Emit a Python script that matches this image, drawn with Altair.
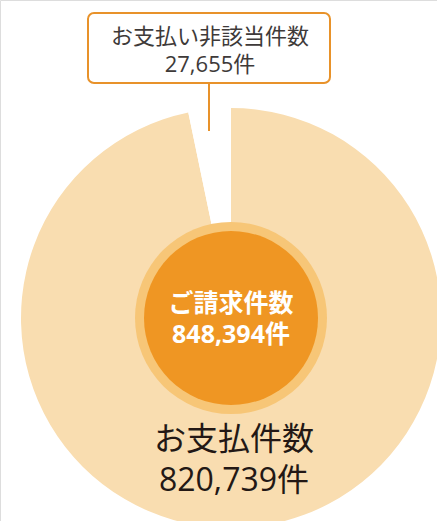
import altair as alt
import pandas as pd

# Data
categories = ["お支払件数", "お支払い非該当件数"]
values = [820739, 27655]
slice_colors = ["#F9DDB0", "#FFFFFF"]
total_label = "ご請求件数"
total_value = 848394

FONT = "Open Sans, Noto Sans CJK JP"
CX, CY = 231, 318

pie_df = pd.DataFrame({"cat": categories, "value": values, "idx": [0, 1]})
total_df = pd.DataFrame({"cat": [total_label], "value": [total_value]})

pie = alt.Chart(pie_df).mark_arc(outerRadius=210).encode(
    theta=alt.Theta("value:Q", stack=True),
    order=alt.Order("idx:Q"),
    color=alt.Color("cat:N", scale=alt.Scale(domain=categories, range=slice_colors), legend=None),
    x=alt.value(CX), y=alt.value(CY),
)

ring = alt.Chart(total_df).mark_arc(outerRadius=96, color="#F7C677").encode(
    theta=alt.Theta("value:Q"), x=alt.value(CX), y=alt.value(CY)
)
inner = alt.Chart(total_df).mark_arc(outerRadius=87, color="#EF9623").encode(
    theta=alt.Theta("value:Q"), x=alt.value(CX), y=alt.value(CY)
)

center_text = alt.Chart(total_df).transform_calculate(
    l1="datum.cat", l2="format(datum.value, ',') + '件'"
)
c1 = center_text.mark_text(font=FONT, fontSize=25, fontWeight="bold", color="white").encode(
    text="l1:N", x=alt.value(CX), y=alt.value(304))
c2 = center_text.mark_text(font=FONT, fontSize=25, fontWeight="bold", color="white").encode(
    text="l2:N", x=alt.value(CX), y=alt.value(335))

paid_df = pie_df[pie_df.idx == 0]
paid = alt.Chart(paid_df).transform_calculate(l2="format(datum.value, ',') + '件'")
p1 = paid.mark_text(font=FONT, fontSize=32, color="#231815").encode(
    text="cat:N", x=alt.value(234), y=alt.value(440))
p2 = paid.mark_text(font=FONT, fontSize=32, color="#231815").encode(
    text="l2:N", x=alt.value(234), y=alt.value(481))

non_df = pie_df[pie_df.idx == 1]
non = alt.Chart(non_df).transform_calculate(l2="format(datum.value, ',') + '件'")
box = non.mark_rect(fill="white", stroke="#E8922A", strokeWidth=2, cornerRadius=6).encode(
    x=alt.value(88), x2=alt.value(330), y=alt.value(13), y2=alt.value(83))
leader = non.mark_rule(color="#E8922A", strokeWidth=2).encode(
    x=alt.value(209), y=alt.value(83), y2=alt.value(131))
n1 = non.mark_text(font=FONT, fontSize=22, color="#3E3A39").encode(
    text="cat:N", x=alt.value(210), y=alt.value(37))
n2 = non.mark_text(font=FONT, fontSize=22, color="#3E3A39").encode(
    text="l2:N", x=alt.value(210), y=alt.value(65))

chart = alt.layer(pie, ring, inner, c1, c2, p1, p2, leader, box, n1, n2).properties(
    width=437, height=521,
    autosize=alt.AutoSizeParams(type="none"),
    padding=0,
).configure_view(stroke=None).configure(background="white")

chart.save("out.html", embed_options={"renderer": "svg", "actions": False})
